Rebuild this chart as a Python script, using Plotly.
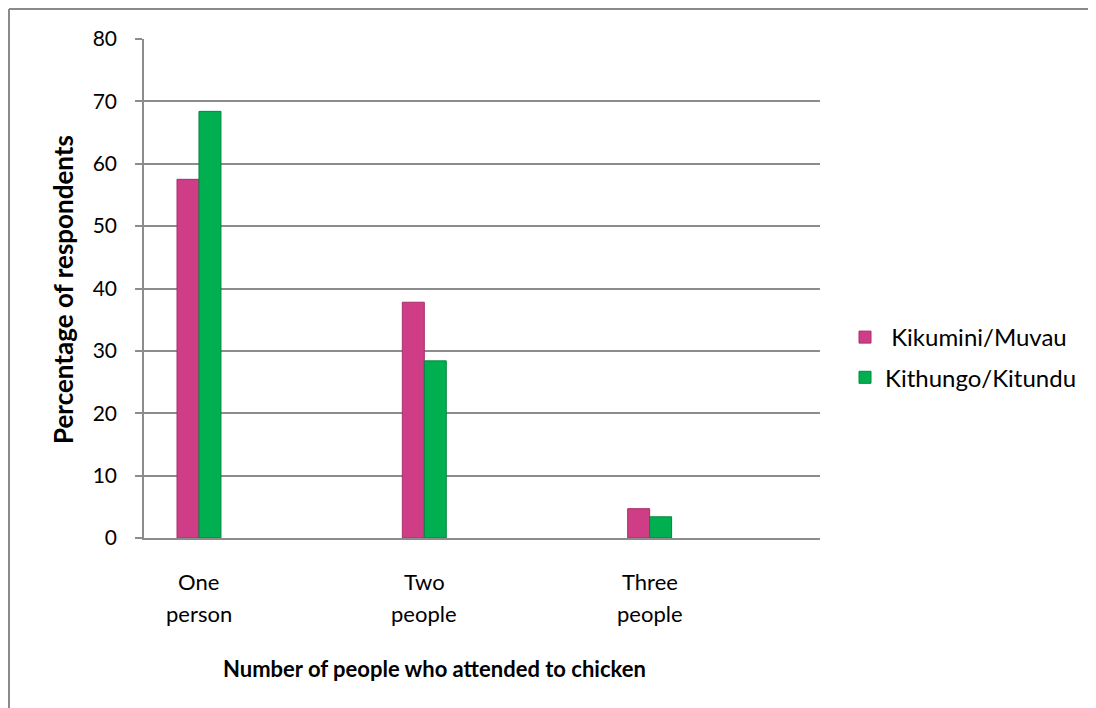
import plotly.graph_objects as go

categories = ["One person", "Two people", "Three people"]
category_lines = [["One", "person"], ["Two", "people"], ["Three", "people"]]
series_names = ["Kikumini/Muvau", "Kithungo/Kitundu"]
kikumini = [57.5, 37.8, 4.7]
kithungo = [68.4, 28.4, 3.4]
y_ticks = [0, 10, 20, 30, 40, 50, 60, 70, 80]

PINK = "#cf3d86"
PINK_EDGE = "#a8306b"
GREEN = "#00b050"
GREEN_EDGE = "#00873c"
GRID = "#8c8c8c"
FONT = "Lato"

OFF = 8  # page body margin
W, H = 1096 - OFF, 708 - OFF
# plot area in page pixels
PL, PR, PT, PB = 144, 820, 39, 538
L, R, T, B = PL - OFF, PR - OFF, PT - OFF, PB - OFF


def px_x(px):
    """page x pixel -> paper x"""
    return (px - OFF - L) / (R - L)


def px_y(py):
    """page y pixel -> paper y"""
    return (B - (py - OFF)) / (B - T)


xs = list(range(len(categories)))

fig = go.Figure()
fig.add_trace(go.Bar(
    x=xs, y=kikumini, name=" " + series_names[0],
    marker=dict(color=PINK, line=dict(color=PINK_EDGE, width=1)),
    legendgroup="a",
))
fig.add_trace(go.Bar(
    x=xs, y=kithungo, name=series_names[1],
    marker=dict(color=GREEN, line=dict(color=GREEN_EDGE, width=1)),
    legendgroup="b",
))

annotations = []
for i, lines in enumerate(category_lines):
    for j, line in enumerate(lines):
        annotations.append(dict(
            x=i, xref="x", y=px_y(581 + 32 * j), yref="paper",
            text=line, showarrow=False, xanchor="center", yanchor="middle",
            font=dict(family=FONT, size=22, color="#000000"),
        ))

annotations.append(dict(
    x=px_x(434), xref="paper", y=px_y(668), yref="paper",
    text="<b>Number of people who attended to chicken</b>", showarrow=False,
    xanchor="center", yanchor="middle",
    font=dict(family=FONT, size=22, color="#000000"),
))
annotations.append(dict(
    x=px_x(63), xref="paper", y=px_y(290), yref="paper",
    text="<b>Percentage of respondents</b>", showarrow=False, textangle=-90,
    xanchor="center", yanchor="middle",
    font=dict(family=FONT, size=26, color="#000000"),
))

shapes = [
    dict(type="line", xref="paper", yref="paper",
         x0=px_x(9), x1=px_x(1110), y0=px_y(9), y1=px_y(9),
         line=dict(color="#8a8a8a", width=2)),
    dict(type="line", xref="paper", yref="paper",
         x0=px_x(9), x1=px_x(9), y0=px_y(9), y1=px_y(730),
         line=dict(color="#8a8a8a", width=2)),
]

fig.update_layout(
    width=W, height=H,
    margin=dict(l=L, r=W - R, t=T, b=H - B, autoexpand=False),
    paper_bgcolor="white", plot_bgcolor="white",
    barmode="group", bargap=0.805, bargroupgap=0,
    font=dict(family=FONT, size=22, color="#000000"),
    showlegend=True,
    legend=dict(
        x=px_x(845), y=px_y(315), xanchor="left", yanchor="top",
        font=dict(family=FONT, size=24, color="#000000"),
        tracegroupgap=6, itemwidth=30, bgcolor="rgba(0,0,0,0)",
    ),
    annotations=annotations,
    shapes=shapes,
)

fig.update_xaxes(
    range=[-0.244, 2.756], tickmode="array", tickvals=xs, ticktext=categories,
    showticklabels=False, showgrid=False, zeroline=False,
    showline=True, linecolor=GRID, linewidth=1.5, ticks="",
)
fig.update_yaxes(
    range=[0, 80], tickmode="array", tickvals=y_ticks,
    ticktext=[str(v) for v in y_ticks],
    showgrid=True, gridcolor=GRID, gridwidth=1.5,
    showline=True, linecolor=GRID, linewidth=1.5,
    ticks="outside", ticklen=7, tickcolor=GRID, tickwidth=1.5,
    ticklabelstandoff=14, zeroline=False,
    tickfont=dict(family=FONT, size=21, color="#000000"),
)

fig.write_html("out.html")
